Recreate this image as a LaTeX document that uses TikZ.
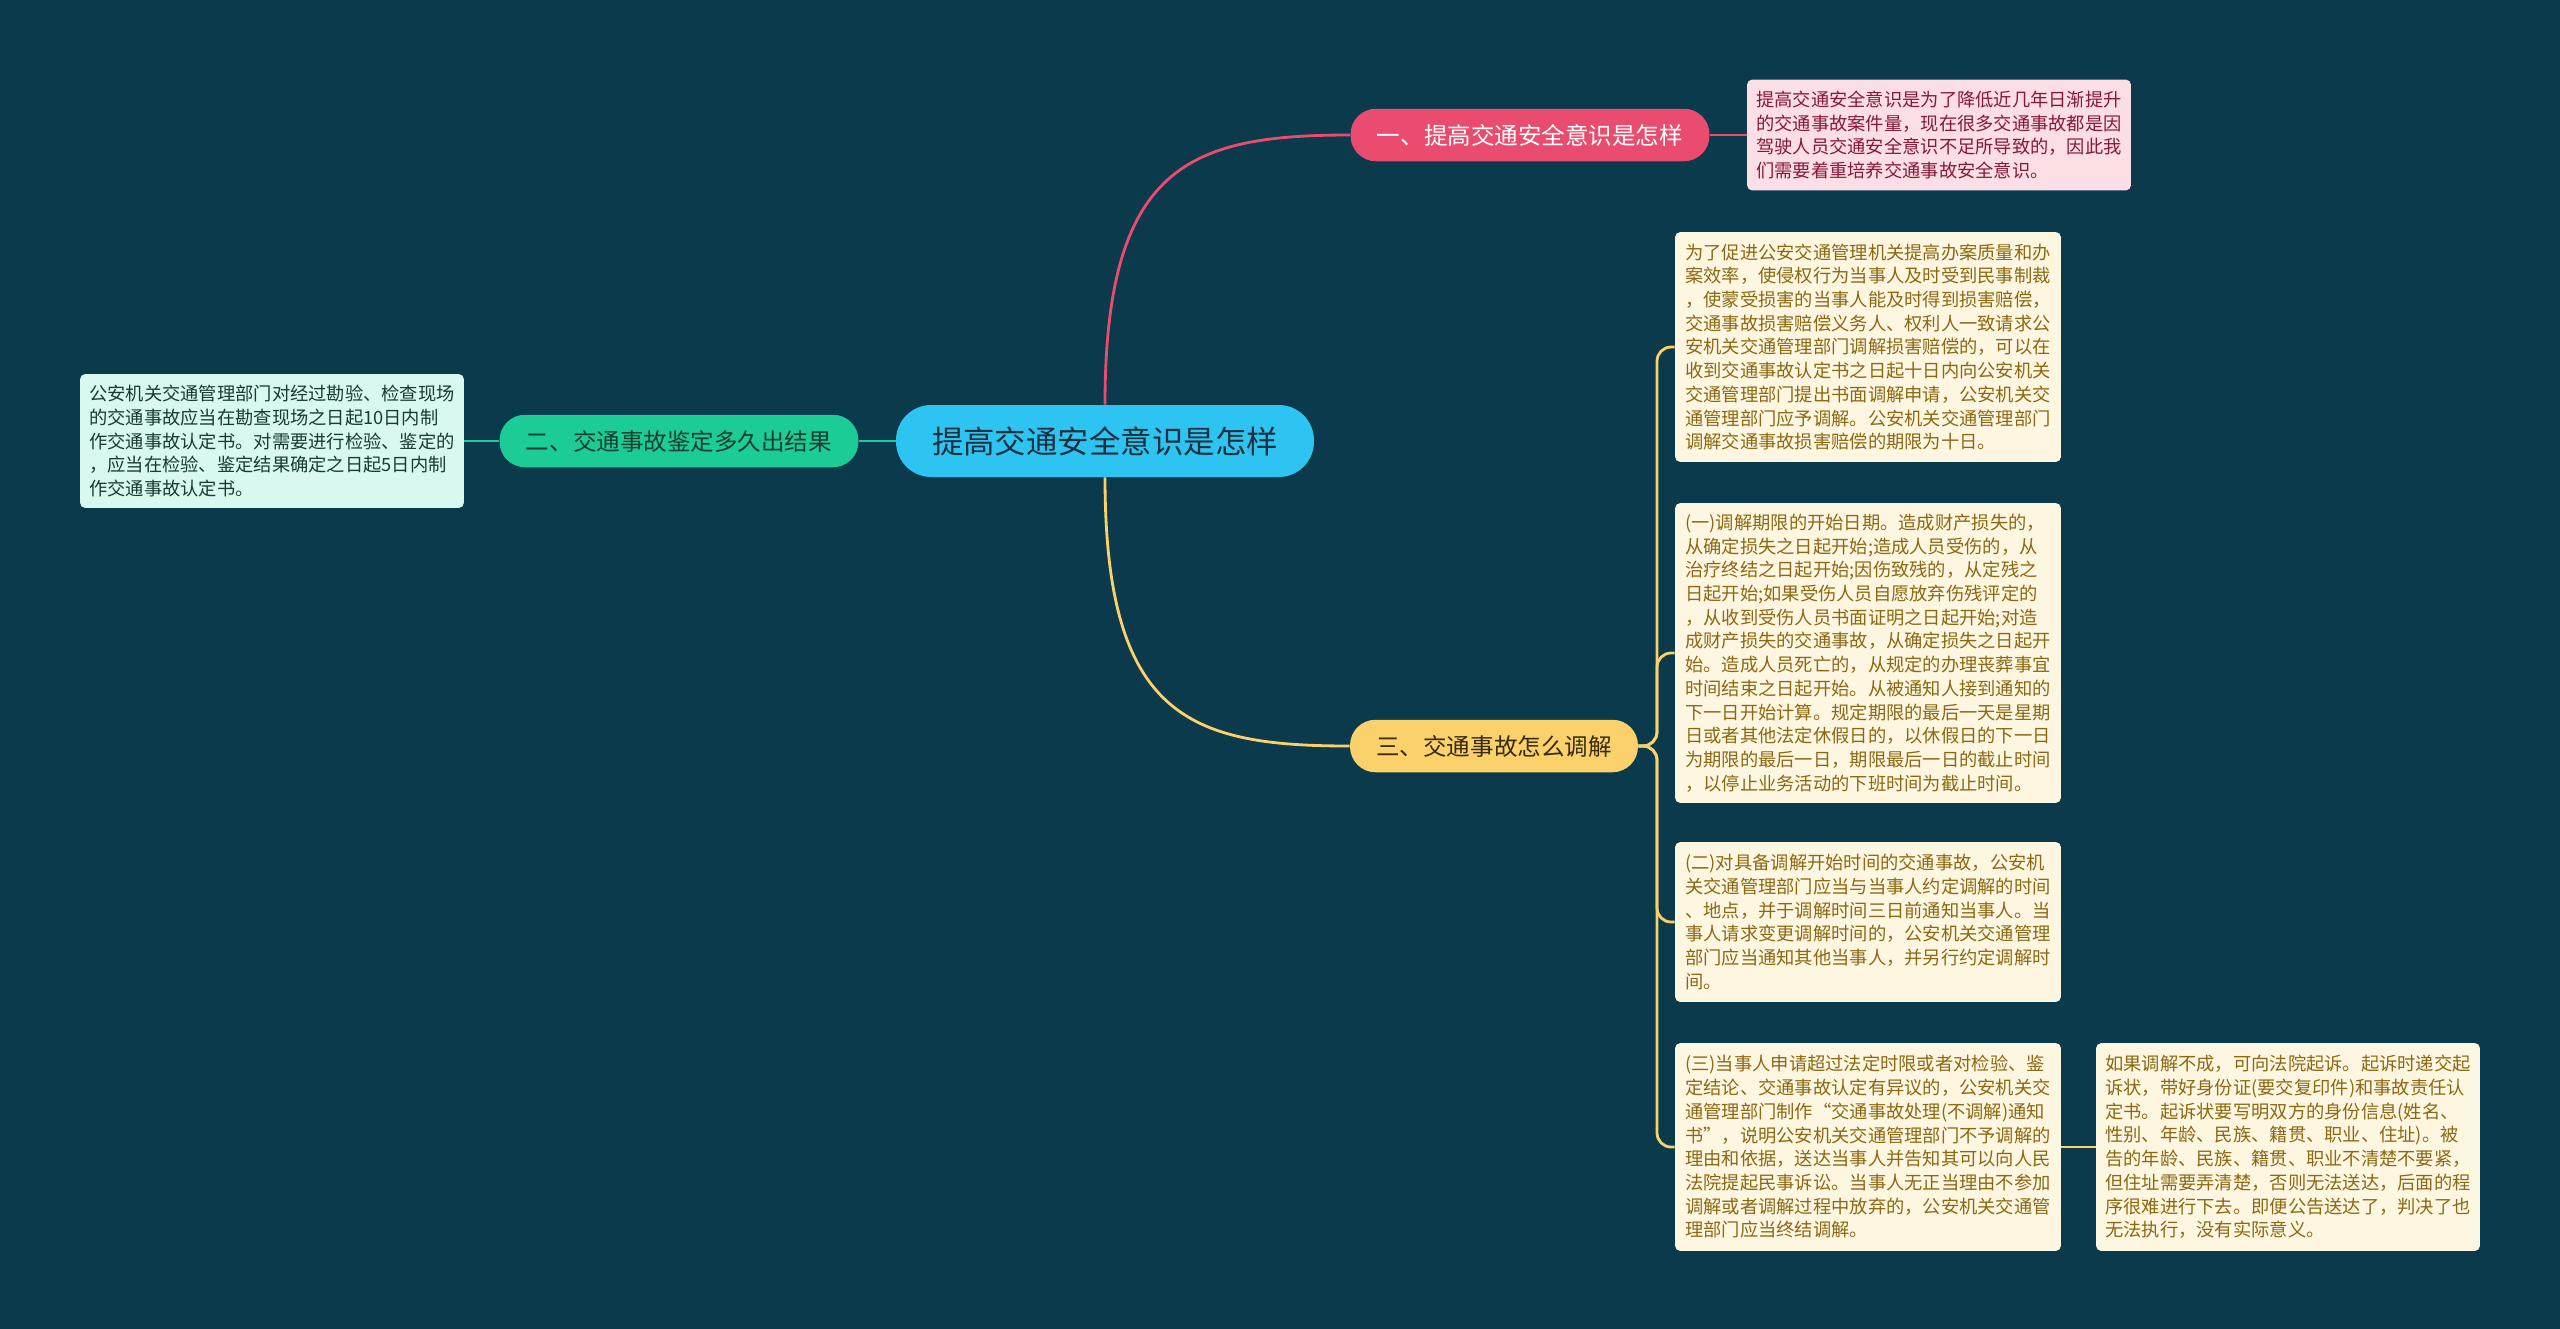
\documentclass[tikz,border=0pt]{standalone}
\usepackage{fontspec}
\setmainfont{Noto Sans CJK SC}
\definecolor{bg}{RGB}{10,58,76}
\definecolor{hc}{RGB}{46,196,241}
\definecolor{ht}{RGB}{28,48,62}
\definecolor{pc}{RGB}{233,76,111}
\definecolor{pl}{RGB}{252,222,229}
\definecolor{pt}{RGB}{135,25,55}
\definecolor{gc}{RGB}{28,204,150}
\definecolor{gl}{RGB}{216,248,240}
\definecolor{gt}{RGB}{22,60,52}
\definecolor{yc}{RGB}{250,209,106}
\definecolor{yl}{RGB}{253,247,226}
\definecolor{yt}{RGB}{140,104,18}
\definecolor{ydk}{RGB}{55,42,12}
\tikzset{hub/.style={fill=hc,text=ht,rounded corners=20pt,minimum width=8.36cm,minimum height=1.44cm,font=\fontsize{17.9pt}{20pt}\selectfont},
 br/.style={rounded corners=14.5pt,minimum height=1.05cm,inner sep=2pt,font=\fontsize{13.4pt}{16pt}\selectfont},
 lf/.style={rounded corners=3pt,align=left,inner sep=2pt,minimum width=7.72cm,font=\fontsize{10.4pt}{13.5pt}\selectfont},
 pf/.style={lf,fill=pl,text=pt,minimum width=7.68cm},gf/.style={lf,fill=gl,text=gt,minimum width=7.68cm},
 yf/.style={lf,fill=yl,text=yt},
 ln/.style={line width=1.6pt},yln/.style={ln,draw=yc,rounded corners=8pt}}
\begin{document}
\begin{tikzpicture}[x=0.02cm,y=-0.02cm]
\fill[bg] (0,0) rectangle (2560,1329);
\node[hub] (c) at (1105,441) {提高交通安全意识是怎样};
\node[br,fill=pc,text=white,minimum width=7.18cm] (b1) at (1530,135) {一、提高交通安全意识是怎样};
\node[br,fill=gc,text=gt,minimum width=7.18cm] (b2) at (679,441) {二、交通事故鉴定多久出结果};
\node[br,fill=yc,text=ydk,minimum width=5.76cm] (b3) at (1494,746) {三、交通事故怎么调解};
\node[pf,minimum height=2.22cm] (n1) at (1939,135) {提高交通安全意识是为了降低近几年日渐提升\\的交通事故案件量，现在很多交通事故都是因\\驾驶人员交通安全意识不足所导致的，因此我\\们需要着重培养交通事故安全意识。};
\node[gf,minimum height=2.68cm] (n2) at (272,441) {公安机关交通管理部门对经过勘验、检查现场\\的交通事故应当在勘查现场之日起10日内制\\作交通事故认定书。对需要进行检验、鉴定的\\，应当在检验、鉴定结果确定之日起5日内制\\作交通事故认定书。};
\node[yf,minimum height=4.6cm] (m1) at (1868,347) {为了促进公安交通管理机关提高办案质量和办\\案效率，使侵权行为当事人及时受到民事制裁\\，使蒙受损害的当事人能及时得到损害赔偿，\\交通事故损害赔偿义务人、权利人一致请求公\\安机关交通管理部门调解损害赔偿的，可以在\\收到交通事故认定书之日起十日内向公安机关\\交通管理部门提出书面调解申请，公安机关交\\通管理部门应予调解。公安机关交通管理部门\\调解交通事故损害赔偿的期限为十日。};
\node[yf,minimum height=6cm] (m2) at (1868,653) {(一)调解期限的开始日期。造成财产损失的，\\从确定损失之日起开始;造成人员受伤的，从\\治疗终结之日起开始;因伤致残的，从定残之\\日起开始;如果受伤人员自愿放弃伤残评定的\\，从收到受伤人员书面证明之日起开始;对造\\成财产损失的交通事故，从确定损失之日起开\\始。造成人员死亡的，从规定的办理丧葬事宜\\时间结束之日起开始。从被通知人接到通知的\\下一日开始计算。规定期限的最后一天是星期\\日或者其他法定休假日的，以休假日的下一日\\为期限的最后一日，期限最后一日的截止时间\\，以停止业务活动的下班时间为截止时间。};
\node[yf,minimum height=3.2cm] (m3) at (1868,922) {(二)对具备调解开始时间的交通事故，公安机\\关交通管理部门应当与当事人约定调解的时间\\、地点，并于调解时间三日前通知当事人。当\\事人请求变更调解时间的，公安机关交通管理\\部门应当通知其他当事人，并另行约定调解时\\间。};
\node[yf,minimum height=4.16cm] (m4) at (1868,1147) {(三)当事人申请超过法定时限或者对检验、鉴\\定结论、交通事故认定有异议的，公安机关交\\通管理部门制作“交通事故处理(不调解)通知\\书”，说明公安机关交通管理部门不予调解的\\理由和依据，送达当事人并告知其可以向人民\\法院提起民事诉讼。当事人无正当理由不参加\\调解或者调解过程中放弃的，公安机关交通管\\理部门应当终结调解。};
\node[yf,minimum width=7.68cm,minimum height=4.16cm] (m5) at (2288,1147) {如果调解不成，可向法院起诉。起诉时递交起\\诉状，带好身份证(要交复印件)和事故责任认\\定书。起诉状要写明双方的身份信息(姓名、\\性别、年龄、民族、籍贯、职业、住址)。被\\告的年龄、民族、籍贯、职业不清楚不要紧，\\但住址需要弄清楚，否则无法送达，后面的程\\序很难进行下去。即便公告送达了，判决了也\\无法执行，没有实际意义。};
\draw[ln,pc] (c.north) .. controls +(0,-240) and +(-160,0) .. (b1.west);
\draw[ln,yc] (c.south) .. controls +(0,240) and +(-160,0) .. (b3.west);
\draw[ln,gc] (c.west)--(b2.east);\draw[ln,gc] (b2.west)--(n2.east);
\draw[ln,pc] (b1.east)--(n1.west);
\draw[yln] (b3.east)--(1657,746)|-(m1.west);\draw[yln] (b3.east)--(1657,746)|-(m2.west);
\draw[yln] (b3.east)--(1657,746)|-(m3.west);\draw[yln] (b3.east)--(1657,746)|-(m4.west);
\draw[ln,yc] (m4.east)--(m5.west);
\end{tikzpicture}
\end{document}
